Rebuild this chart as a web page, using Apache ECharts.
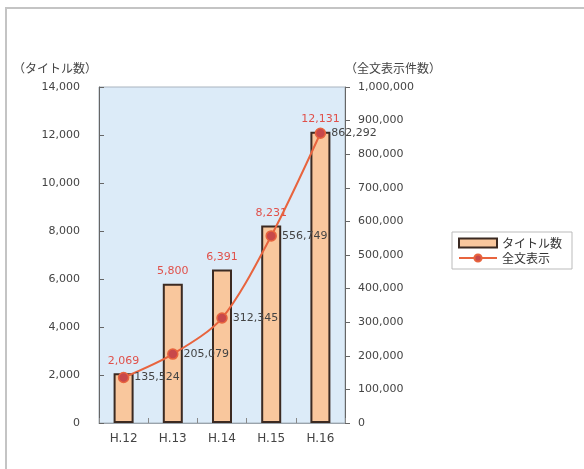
<!DOCTYPE html>
<html>
<head>
<meta charset="utf-8">
<script src="https://cdn.jsdelivr.net/npm/echarts@6/dist/echarts.min.js"></script>
<style>
  html, body { margin: 0; padding: 0; background: #fff; }
  #chart { width: 584px; height: 469px; }
</style>
</head>
<body>
<div id="chart"></div>
<script>
// データ
var years = ['H.12', 'H.13', 'H.14', 'H.15', 'H.16'];
var titleCounts = [2069, 5800, 6391, 8231, 12131];
var fullTextCounts = [135524, 205079, 312345, 556749, 862292];

var jpFont = '"Noto Sans CJK JP", "Noto Sans", sans-serif';
var numFont = '"DejaVu Sans", sans-serif';

function fmt(v) { return v.toLocaleString('en-US'); }

var option = {
  animation: false,
  textStyle: { fontFamily: jpFont },
  graphic: [
    // 外枠
    {
      type: 'rect',
      shape: { x: 6, y: 8, width: 600, height: 500 },
      style: { fill: 'none', stroke: '#c4c4c4', lineWidth: 2 },
      silent: true
    }
  ],
  legend: {
    orient: 'vertical',
    left: 452,
    top: 232,
    padding: [5, 10, 5, 6],
    itemGap: 3,
    itemWidth: 38,
    itemHeight: 9,
    borderColor: '#bbb',
    borderWidth: 1,
    backgroundColor: '#fff',
    textStyle: { fontSize: 12, color: '#333', fontFamily: jpFont },
    data: [{ name: 'タイトル数', icon: 'rect' }, { name: '全文表示' }]
  },
  grid: {
    left: 99,
    right: 239,
    top: 87,
    bottom: 46,
    show: true,
    backgroundColor: '#dcebf8',
    borderColor: '#a9b4bf',
    borderWidth: 1
  },
  xAxis: {
    type: 'category',
    data: years,
    axisLine: { lineStyle: { color: '#9aa3ab', width: 1 } },
    axisTick: { show: true, inside: true, lineStyle: { color: '#888' } },
    axisLabel: { color: '#444', fontSize: 12, margin: 10, fontFamily: numFont }
  },
  yAxis: [
    {
      type: 'value',
      name: '（タイトル数）',
      nameLocation: 'end',
      nameGap: 13,
      nameTextStyle: { align: 'right', color: '#444', fontSize: 12, padding: [0, 2, 0, 0] },
      min: 0,
      max: 14000,
      interval: 2000,
      axisLine: { show: true, lineStyle: { color: '#666' } },
      axisTick: { show: true, inside: true, lineStyle: { color: '#666' } },
      axisLabel: { color: '#444', fontSize: 11, margin: 19, fontFamily: numFont, formatter: fmt },
      splitLine: { show: false }
    },
    {
      type: 'value',
      name: '（全文表示件数）',
      nameLocation: 'end',
      nameGap: 13,
      nameTextStyle: { align: 'left', color: '#444', fontSize: 12 },
      min: 0,
      max: 1000000,
      interval: 100000,
      axisLine: { show: true, lineStyle: { color: '#666' } },
      axisTick: { show: true, lineStyle: { color: '#666' } },
      axisLabel: { color: '#444', fontSize: 11, margin: 13, fontFamily: numFont, formatter: fmt },
      splitLine: { show: false }
    }
  ],
  series: [
    {
      name: 'タイトル数',
      type: 'bar',
      yAxisIndex: 0,
      data: titleCounts,
      barWidth: 20,
      itemStyle: { color: '#f9c79d', borderColor: '#3b2a22', borderWidth: 2 },
      label: {
        show: true,
        position: 'top',
        distance: 7,
        color: '#e0504a',
        fontSize: 11,
        fontFamily: numFont,
        formatter: function (p) { return fmt(p.value); }
      },
      z: 2
    },
    {
      name: '全文表示',
      type: 'line',
      yAxisIndex: 1,
      data: fullTextCounts,
      smooth: 0.3,
      symbol: 'circle',
      symbolSize: 10,
      lineStyle: { color: '#e8643e', width: 2 },
      itemStyle: { color: '#c8484a', borderColor: '#e8643e', borderWidth: 1.5 },
      label: {
        show: true,
        position: 'right',
        distance: 5,
        color: '#444',
        fontSize: 11,
        fontFamily: numFont,
        formatter: function (p) { return fmt(p.value); }
      },
      z: 5
    }
  ]
};

var myChart = echarts.init(document.getElementById('chart'));
myChart.setOption(option);
</script>
</body>
</html>
